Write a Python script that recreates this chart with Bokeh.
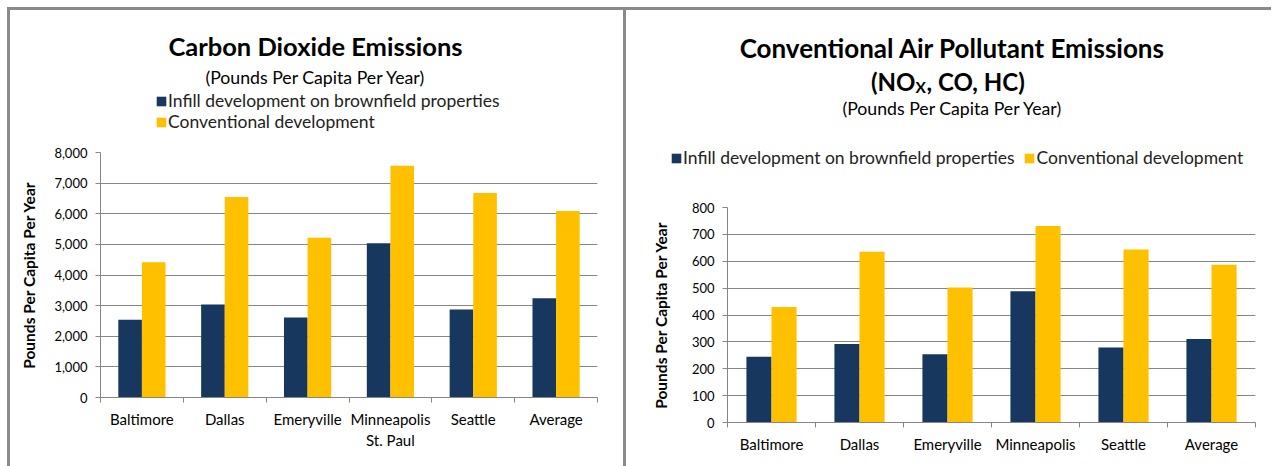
from bokeh.plotting import figure
from bokeh.layouts import row, column
from bokeh.models import (Range1d, FixedTicker, NumeralTickFormatter, ColumnDataSource,
                          Label, Legend, LegendItem)
from bokeh.transform import dodge
from bokeh.embed import file_html
from bokeh.resources import INLINE

# ---------------- data ----------------
co2_cities = ["Baltimore", "Dallas", "Emeryville", "Minneapolis\nSt. Paul", "Seattle", "Average"]
air_cities = ["Baltimore", "Dallas", "Emeryville", "Minneapolis", "Seattle", "Average"]
co2_infill = [2540, 3040, 2610, 5040, 2870, 3240]
co2_conventional = [4420, 6550, 5220, 7570, 6680, 6090]
air_infill = [245, 292, 254, 488, 279, 311]
air_conventional = [430, 635, 502, 731, 644, 587]
series_names = ["Infill development on brownfield properties", "Conventional development"]
series_colors = ["#17375E", "#FFC000"]
co2_ticks = [0, 1000, 2000, 3000, 4000, 5000, 6000, 7000, 8000]
air_ticks = [0, 100, 200, 300, 400, 500, 600, 700, 800]
y_title = "Pounds Per Capita Per Year"

GRAY = "#868686"
FONT = "Lato"


def make_source(infill, conv):
    centers = [i + 0.5 for i in range(len(infill))]
    return ColumnDataSource(dict(x=centers, infill=infill, conv=conv))


def add_bars(p, src, visible=True):
    r1 = p.vbar(x=dodge("x", -0.1425), top="infill", width=0.285, source=src,
                fill_color=series_colors[0], line_color=None, visible=visible)
    r2 = p.vbar(x=dodge("x", 0.1425), top="conv", width=0.285, source=src,
                fill_color=series_colors[1], line_color=None, visible=visible)
    return r1, r2


def make_chart(cats, src, ticks, width, height, borders, ystand):
    n = len(cats)
    centers = [i + 0.5 for i in range(n)]
    p = figure(width=width, height=height, output_backend="svg", toolbar_location=None,
               x_range=Range1d(0, n), y_range=Range1d(ticks[0], ticks[-1]),
               min_border_left=borders[0], min_border_right=borders[1],
               min_border_top=borders[2], min_border_bottom=borders[3],
               outline_line_color=None, background_fill_color="white",
               border_fill_color="white")
    add_bars(p, src)

    xa = p.xaxis[0]
    xa.ticker = FixedTicker(ticks=centers, minor_ticks=list(range(n + 1)))
    xa.major_label_overrides = {c: lab for c, lab in zip(centers, cats)}
    xa.major_tick_line_color = None
    xa.minor_tick_line_color = GRAY
    xa.minor_tick_out = 5
    xa.minor_tick_in = 0
    xa.axis_line_color = GRAY
    xa.major_label_standoff = 6
    xa.major_label_text_font = FONT
    xa.major_label_text_font_size = "15px"
    xa.major_label_text_color = "black"

    ya = p.yaxis[0]
    ya.ticker = FixedTicker(ticks=ticks, minor_ticks=[])
    ya.formatter = NumeralTickFormatter(format="0,0")
    ya.major_tick_out = 5
    ya.major_tick_in = 0
    ya.major_tick_line_color = GRAY
    ya.axis_line_color = GRAY
    ya.major_label_standoff = 8
    ya.major_label_text_font = FONT
    ya.major_label_text_font_size = "13px"
    ya.major_label_text_color = "black"
    ya.axis_label = y_title
    ya.axis_label_text_font = FONT
    ya.axis_label_text_font_style = "bold"
    ya.axis_label_text_font_size = "15.5px"
    ya.axis_label_text_color = "black"
    ya.axis_label_standoff = ystand

    p.xgrid.visible = False
    p.ygrid.ticker = FixedTicker(ticks=ticks, minor_ticks=[])
    p.ygrid.grid_line_color = GRAY
    p.ygrid.grid_line_width = 1
    return p


def make_header(src, width, height, legend_loc, orientation):
    h = figure(width=width, height=height, output_backend="svg", toolbar_location=None,
               x_range=Range1d(0, width), y_range=Range1d(0, height),
               min_border=0, x_axis_type=None, y_axis_type=None,
               outline_line_color=None, background_fill_color="white",
               border_fill_color="white")
    h.grid.visible = False
    # hidden copies of the two series, used only for the legend swatches
    r1, r2 = add_bars(h, src, visible=False)
    lg = Legend(items=[LegendItem(label=series_names[0], renderers=[r1]),
                       LegendItem(label=series_names[1], renderers=[r2])],
                location=legend_loc, orientation=orientation)
    lg.background_fill_alpha = 0
    lg.border_line_color = None
    lg.inactive_fill_alpha = 0
    lg.padding = 0
    lg.margin = 0
    lg.spacing = 0 if orientation == "vertical" else 9
    lg.glyph_width = 12
    lg.glyph_height = 12
    lg.label_height = 12
    lg.label_standoff = 1
    lg.label_text_font = FONT
    lg.label_text_font_size = "17.5px"
    lg.label_text_color = "#222222"
    h.add_layout(lg, "center")
    return h


def label(p, x, y, text, size, bold=False, align="center"):
    p.add_layout(Label(x=x, y=y, x_units="screen", y_units="screen", text=text,
                       text_align=align, text_baseline="alphabetic", text_font=FONT,
                       text_font_size=size, text_font_style="bold" if bold else "normal",
                       text_color="black"))


# ---------------- left chart ----------------
src1 = make_source(co2_infill, co2_conventional)
h1 = make_header(src1, 613, 130, (145, 8), "vertical")
label(h1, 305, 95, "Carbon Dioxide Emissions", "25.5px", bold=True)
label(h1, 305, 63, "(Pounds Per Capita Per Year)", "17.7px")
p1 = make_chart(co2_cities, src1, co2_ticks, 613, 326, (90, 26, 12, 69), 13)

# ---------------- right chart ----------------
src2 = make_source(air_infill, air_conventional)
h2 = make_header(src2, 645, 185, (44, 27), "horizontal")
label(h2, 326, 148, "Conventional Air Pollutant Emissions", "26px", bold=True)
label(h2, 289, 114, "(NO", "24px", bold=True, align="right")
label(h2, 289, 109, "X", "15.5px", bold=True, align="left")
label(h2, 300, 114, ", CO, HC)", "24px", bold=True, align="left")
label(h2, 326, 87, "(Pounds Per Capita Per Year)", "17.7px")
p2 = make_chart(air_cities, src2, air_ticks, 645, 271, (101, 16, 12, 44), 19)

white = {"background-color": "white"}
c1 = column(column(h1, styles=white), column(p1, styles=white),
            margin=(3, 0, 0, 3), styles=white)
c2 = column(column(h2, styles=white), column(p2, styles=white),
            margin=(3, 0, 0, 0), styles=white)
layout = row(c1, c2, spacing=3, margin=(7, 0, 0, 7),
             styles={"background-color": "#8a8a8a"})

open("out.html", "w").write(file_html(layout, INLINE))
